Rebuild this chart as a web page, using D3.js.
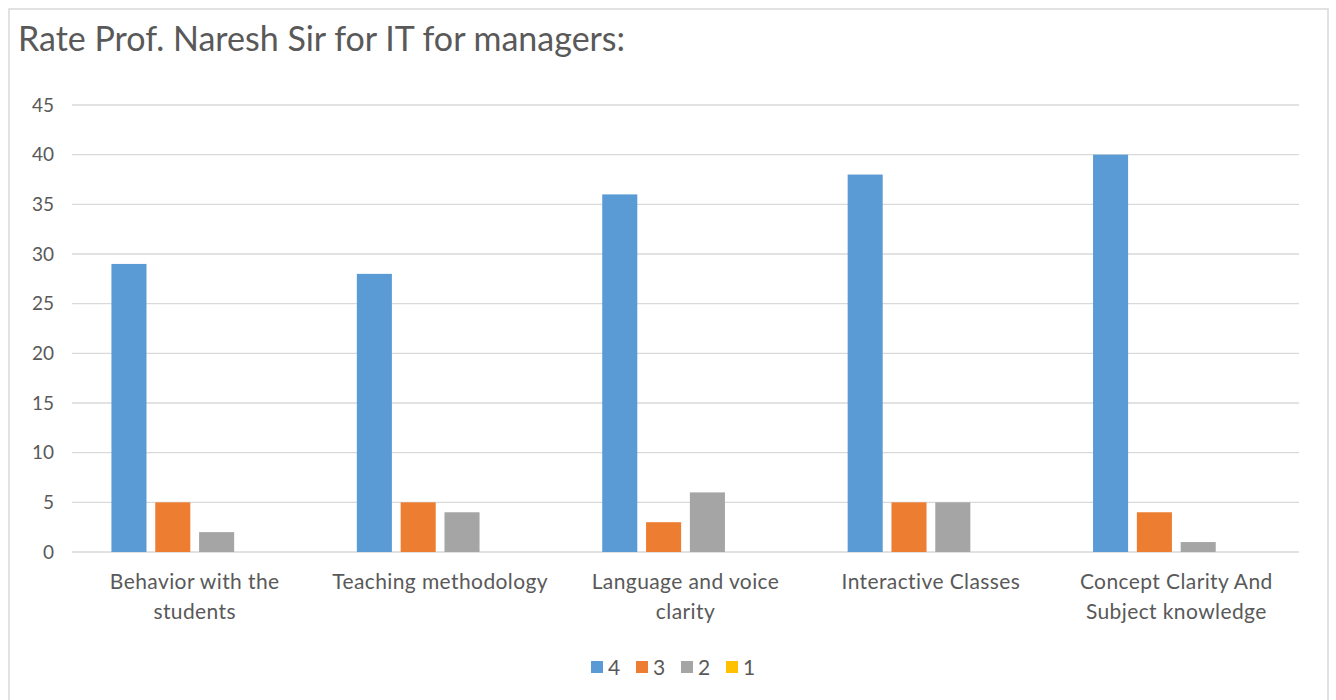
<!DOCTYPE html>
<html>
<head>
<meta charset="utf-8">
<script src="https://cdn.jsdelivr.net/npm/d3@7"></script>
<style>
  body { margin: 0; background: #fff; }
  text { font-family: Lato, "Open Sans", sans-serif; fill: #595959; }
</style>
</head>
<body>
<div id="chart"></div>
<script>
// chart data
const categories = [
  ['Behavior with the', 'students'],
  ['Teaching methodology'],
  ['Language and voice', 'clarity'],
  ['Interactive Classes'],
  ['Concept Clarity And', 'Subject knowledge']
];
const seriesNames = ['4', '3', '2', '1'];
const rating4 = [29, 28, 36, 38, 40];
const rating3 = [5, 5, 3, 5, 4];
const rating2 = [2, 4, 6, 5, 1];
const rating1 = [0, 0, 0, 0, 0];
const yTicks = [0, 5, 10, 15, 20, 25, 30, 35, 40, 45];
const colors = ['#5B9BD5', '#ED7D31', '#A5A5A5', '#FFC000'];

const allSeries = [rating4, rating3, rating2, rating1];

const w = 1336, h = 700;
const svg = d3.select('#chart').append('svg')
  .attr('width', w)
  .attr('height', h);

// outer frame
svg.append('rect')
  .attr('x', 9).attr('y', 9)
  .attr('width', 1319).attr('height', 710)
  .style('fill', '#fff')
  .style('stroke', '#D9D9D9')
  .style('stroke-width', 1.5);

svg.append('text')
  .attr('x', 18).attr('y', 51)
  .style('font-size', '34px')
  .text('Rate Prof. Naresh Sir for IT for managers:');

const plotLeft = 72, plotRight = 1299, plotTop = 105, plotBottom = 552;

const x0 = d3.scaleBand()
  .domain(d3.range(categories.length))
  .range([plotLeft, plotRight]);

const x1 = d3.scaleBand()
  .domain(seriesNames)
  .range([0, x0.bandwidth()])
  .paddingInner(0.2)
  .paddingOuter(0.9);

const y = d3.scaleLinear()
  .domain([0, 45])
  .range([plotBottom, plotTop]);

// gridlines
svg.append('g')
  .selectAll('line')
  .data(yTicks)
  .enter()
  .append('line')
  .attr('x1', plotLeft).attr('x2', plotRight)
  .attr('y1', d => y(d)).attr('y2', d => y(d))
  .style('stroke', '#D9D9D9')
  .style('stroke-width', 1.3);

// y tick labels
svg.append('g')
  .selectAll('text')
  .data(yTicks)
  .enter()
  .append('text')
  .attr('x', 54)
  .attr('y', d => y(d))
  .attr('dy', '0.35em')
  .attr('text-anchor', 'end')
  .style('font-size', '19px')
  .text(d => d);

// bars
const groups = svg.append('g')
  .selectAll('g')
  .data(categories)
  .enter()
  .append('g')
  .attr('transform', (d, i) => `translate(${x0(i)},0)`);

groups.selectAll('rect')
  .data((d, i) => allSeries.map((s, k) => ({ key: seriesNames[k], value: s[i], color: colors[k] })))
  .enter()
  .append('rect')
  .attr('x', d => x1(d.key))
  .attr('width', x1.bandwidth())
  .attr('y', d => y(d.value))
  .attr('height', d => y(0) - y(d.value))
  .style('fill', d => d.color);

// category labels
groups.append('text')
  .attr('text-anchor', 'middle')
  .attr('x', x0.bandwidth() / 2)
  .style('font-size', '21px')
  .style('letter-spacing', '0.4px')
  .selectAll('tspan')
  .data(d => d)
  .enter()
  .append('tspan')
  .attr('x', x0.bandwidth() / 2)
  .attr('y', (d, i) => 589 + i * 30)
  .text(d => d);

// legend
const legendX = [591, 636, 681, 726];
const legend = svg.append('g')
  .selectAll('g')
  .data(seriesNames)
  .enter()
  .append('g')
  .attr('transform', (d, i) => `translate(${legendX[i]},661)`);

legend.append('rect')
  .attr('width', 12).attr('height', 12)
  .style('fill', (d, i) => colors[i]);

legend.append('text')
  .attr('x', 17).attr('y', 14)
  .style('font-size', '21px')
  .text(d => d);
</script>
</body>
</html>
